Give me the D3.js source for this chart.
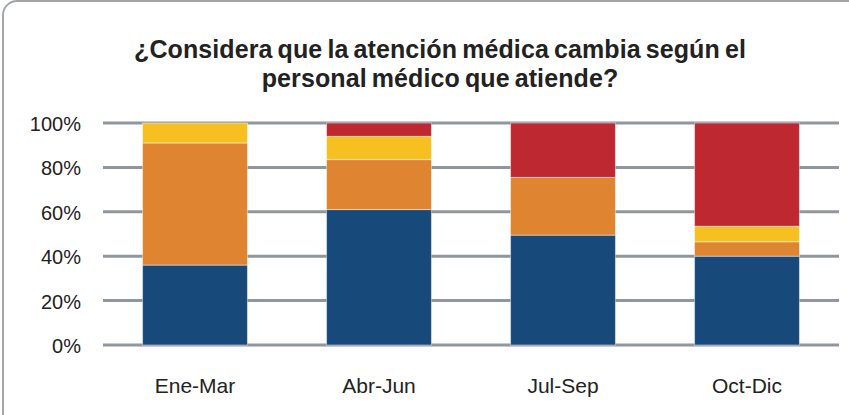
<!DOCTYPE html>
<html>
<head>
<meta charset="utf-8">
<script src="https://cdn.jsdelivr.net/npm/d3@7"></script>
<style>
  body { margin: 0; background: #fff; }
  svg { display: block; font-family: "Liberation Sans", Arial, sans-serif; }
</style>
</head>
<body>
<svg width="849" height="415"></svg>
<script>
"use strict";

// chart data
const periods = ["Ene-Mar", "Abr-Jun", "Jul-Sep", "Oct-Dic"];
const seriesNames = ["s1", "s2", "s3", "s4"];
const blueVals = [36, 61, 49.5, 40];
const orangeVals = [55, 22.5, 26, 6.5];
const yellowVals = [9, 10.5, 0, 7];
const redVals = [0, 6, 24.5, 46.5];
const yTicks = [0, 20, 40, 60, 80, 100];
const titleLines = [
  "¿Considera que la atención médica cambia según el",
  "personal médico que atiende?",
];
const colors = ["#17497a", "#df8430", "#f7c021", "#be2830"];

window.addEventListener("load", drawGraph);

function drawGraph() {
  const svg = d3.select("svg");
  const margin = { top: 123, right: 10, bottom: 70, left: 103 };
  const plotRight = 839;
  const plotBottom = 345;

  // frame with rounded corner, runs off the right/bottom edge
  svg
    .append("rect")
    .attr("x", 3)
    .attr("y", 1)
    .attr("width", 870)
    .attr("height", 440)
    .attr("rx", 14)
    .attr("fill", "none")
    .attr("stroke", "#a2a6aa")
    .attr("stroke-width", 2);

  svg
    .append("text")
    .attr("text-anchor", "middle")
    .attr("font-weight", "bold")
    .attr("font-size", "25px")
    .attr("letter-spacing", "0.1px")
    .attr("word-spacing", "-2px")
    .attr("fill", "#222")
    .selectAll("tspan")
    .data(titleLines)
    .enter()
    .append("tspan")
    .attr("x", 440)
    .attr("y", (d, i) => 58 + i * 29)
    .text((d) => d);

  const x = d3
    .scaleBand()
    .domain(periods)
    .range([margin.left, plotRight])
    .paddingInner(0.43)
    .paddingOuter(0.215);

  const y = d3.scaleLinear().domain([0, 100]).range([plotBottom, margin.top]);

  const rows = periods.map((p, i) => ({
    period: p,
    s1: blueVals[i],
    s2: orangeVals[i],
    s3: yellowVals[i],
    s4: redVals[i],
  }));
  const stacked = d3.stack().keys(seriesNames)(rows);

  // gridlines
  svg
    .append("g")
    .selectAll("line")
    .data(yTicks)
    .enter()
    .append("line")
    .attr("x1", margin.left)
    .attr("x2", plotRight)
    .attr("y1", (d) => y(d))
    .attr("y2", (d) => y(d))
    .attr("stroke", "#8f969d")
    .attr("stroke-width", 3);

  svg
    .append("g")
    .selectAll("g")
    .data(stacked)
    .enter()
    .append("g")
    .attr("fill", (d, i) => colors[i])
    .selectAll("rect")
    .data((d) => d.filter((s) => s[1] - s[0] > 0))
    .enter()
    .append("rect")
    .attr("x", (d) => x(d.data.period))
    .attr("width", x.bandwidth())
    .attr("y", (d) => y(d[1]))
    .attr("height", (d) => y(d[0]) - y(d[1]))
    .attr("stroke", "rgba(255,255,255,0.45)")
    .attr("stroke-width", 1);

  // y labels
  svg
    .append("g")
    .selectAll("text")
    .data(yTicks)
    .enter()
    .append("text")
    .attr("x", 81)
    .attr("y", (d) => y(d) + 8)
    .attr("text-anchor", "end")
    .attr("font-size", "20px")
    .attr("fill", "#222")
    .text((d) => d + "%");

  // category labels
  svg
    .append("g")
    .selectAll("text")
    .data(periods)
    .enter()
    .append("text")
    .attr("x", (d) => x(d) + x.bandwidth() / 2)
    .attr("y", 393)
    .attr("text-anchor", "middle")
    .attr("font-size", "21px")
    .attr("fill", "#222")
    .text((d) => d);
}
</script>
</body>
</html>
